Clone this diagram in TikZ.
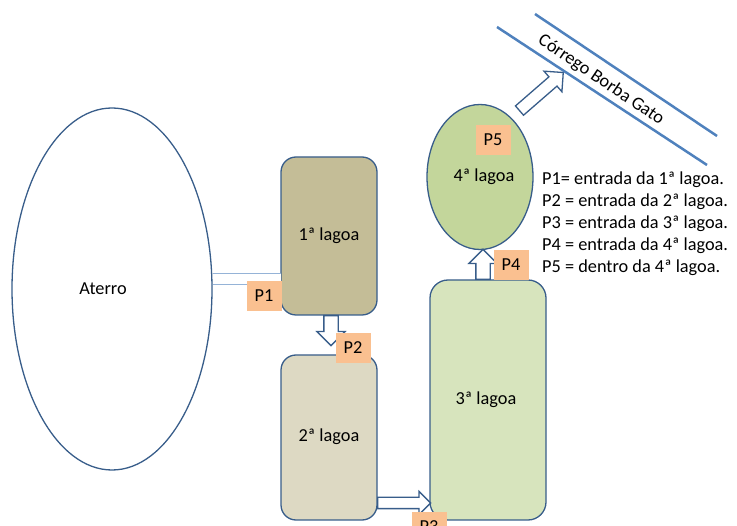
\documentclass[tikz,border=0pt]{standalone}
\usepackage{fontspec}
\setmainfont{Carlito}
\usetikzlibrary{shapes.geometric,shapes.arrows,calc}
\definecolor{borda}{HTML}{385D8A}
\definecolor{corrego}{HTML}{4F81BD}
\definecolor{cano}{HTML}{95B3D7}
\definecolor{lagoaA}{HTML}{C4BD97}
\definecolor{lagoaB}{HTML}{DDD9C3}
\definecolor{lagoaC}{HTML}{D7E4BD}
\definecolor{lagoaD}{HTML}{C3D69B}
\definecolor{pontofill}{HTML}{FAC090}
\tikzset{
  lagoa/.style={draw=borda, line width=1.3pt, rounded corners=15pt, outer sep=0pt},
  ponto/.style={fill=pontofill, minimum width=35pt, minimum height=30pt, inner sep=0pt},
  seta/.style={single arrow, draw=borda, line width=1.3pt, fill=white, anchor=tail,
    inner sep=6.5pt, minimum width=27pt, single arrow head extend=7pt},
}
\begin{document}
\begin{tikzpicture}[x=1pt,y=-1pt,font=\fontsize{18.3pt}{22pt}\selectfont]
    \useasboundingbox (0,0) rectangle (737,526);
    \clip (0,0) rectangle (737,526);

    % aterro e lagoas
    \node[ellipse, draw=borda, line width=1.3pt, minimum width=200pt, minimum height=362pt, inner sep=0pt] (aterro) at (112,289) {\hspace*{-18pt}Aterro};
    \node[lagoa, fill=lagoaA, minimum width=96pt, minimum height=158pt] (l1) at (329,236) {1ª lagoa};
    \node[lagoa, fill=lagoaB, minimum width=96pt, minimum height=165pt, text depth=0pt] (l2) at (329,437.5) {\raisebox{5pt}{2ª lagoa}};
    \node[lagoa, fill=lagoaC, minimum width=116pt, minimum height=240pt, rounded corners=18pt] (l3) at (488,400) {\hspace*{-4pt}3ª lagoa};
    \node[ellipse, draw=borda, line width=1.3pt, fill=lagoaD, minimum width=106pt, minimum height=145pt, inner sep=0pt] (l4) at (480,177) {\hspace*{8pt}4ª lagoa};

    % cano do aterro
    \coordinate (tubo) at (0,279);
    \draw[draw=cano, line width=1.2pt, double=white, double distance=10pt] (aterro.east |- tubo) -- (l1.west |- tubo);

    % setas
    \node[seta, rotate=-90, minimum height=30pt] (s12) at ($(l1.south)+(2,0)$) {};
    \node[seta, rotate=0, minimum height=53pt, inner sep=5pt, single arrow head extend=6pt, minimum width=22pt] (s23) at ($(l2.south east)+(0,-17)$) {};
    \node[seta, rotate=90, minimum height=30pt] (s34) at ($(l3.north)+(-5,0)$) {};
    \coordinate (saida) at (519,111);
    \node[seta, rotate=41, minimum height=58pt, inner sep=5.5pt, minimum width=26pt, single arrow head extend=7.5pt] (s4c) at (saida) {};

    % pontos de coleta
    \node[ponto] (p1) at (264,296) {P1};
    \node[ponto] (p2) at (353,348) {P2};
    \node[ponto] (p3) at (429,527) {P3};
    \node[ponto] (p4) at (511,265) {P4};
    \node[ponto] (p5) at (493,140) {P5};

    % corrego
    \draw[corrego, line width=2.5pt] (535,14) -- (717,136);
    \draw[corrego, line width=2.5pt] (497,27) -- (707,165);
    \node[rotate=-34, inner sep=0pt] (nome) at (601,80) {Córrego Borba Gato};

    % legenda
    \node[anchor=west, align=left, inner sep=0pt] (legenda) at (542,224) {P1= entrada da 1ª lagoa.\\
      P2 = entrada da 2ª lagoa.\\
      P3 = entrada da 3ª lagoa.\\
      P4 = entrada da 4ª lagoa.\\
      P5 = dentro da 4ª lagoa.};
\end{tikzpicture}
\end{document}
